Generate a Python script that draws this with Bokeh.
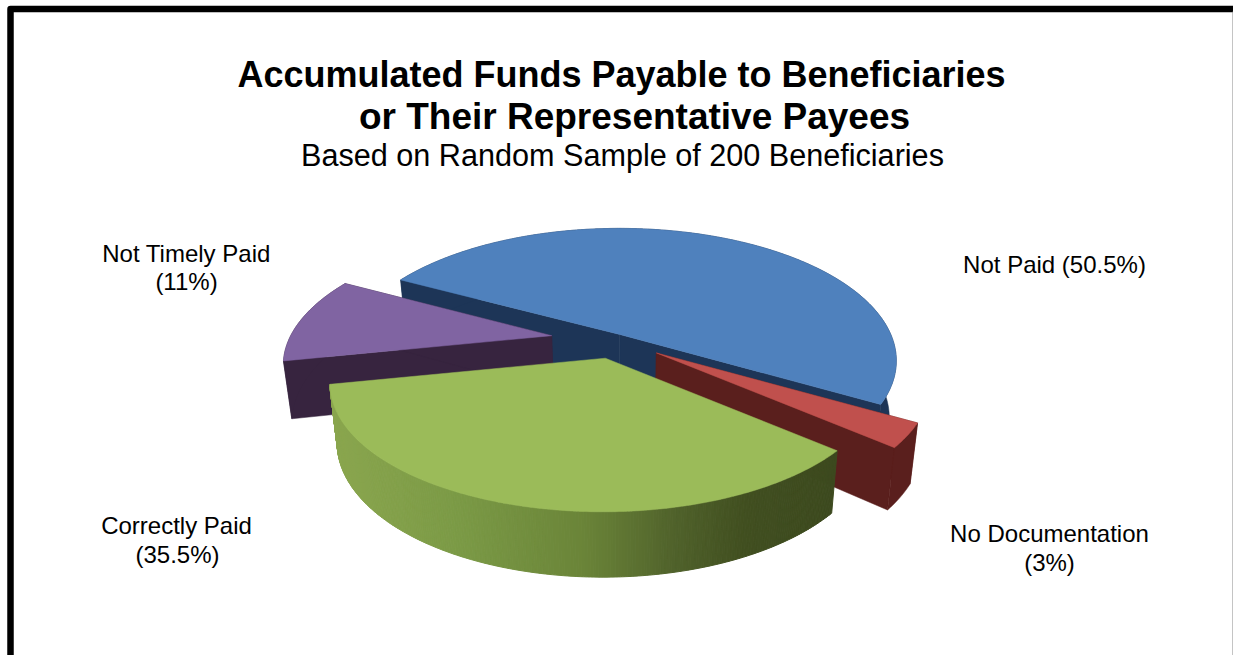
import math
from bokeh.plotting import figure
from bokeh.models import Range1d
from bokeh.core.properties import value
from bokeh.embed import file_html
from bokeh.resources import INLINE

# Shares of the sampled beneficiaries, clockwise from the back-left of the pie
slice_names = ["Not Paid", "No Documentation", "Correctly Paid", "Not Timely Paid"]
slice_values = [50.5, 3.0, 35.5, 11.0]
top_colors = ["#4f81bd", "#c0504d", "#9bbb59", "#8064a2"]
side_colors = ["#1d3557", "#5a1f1d", "#7b9a46", "#37243f"]

# How far each slice is pulled out of the pie, in units of the radius, and its radius scale
slice_offsets = [(0.009, -0.09), (0.145, 0.059), (-0.045, 0.10), (-0.252, -0.08)]
slice_scale = [(1.04, 1.055), (1.0, 1.0), (1.0, 0.965), (1.0, 1.0)]

# Shading of the front rim of the largest foreground slice, left to right
rim_stops = [(0.0, "#8aa64e"), (0.25, "#7b9a46"), (0.5, "#6a8438"), (0.68, "#50622b"),
             (0.82, "#414f20"), (1.0, "#3d4a1f")]

title_line_1 = ("Accumulated Funds Payable to Beneficiaries", 621, 73.5, "36px")
title_line_2 = ("or Their Representative Payees", 634, 116.2, "37px")
subtitle = ("Based on Random Sample of 200 Beneficiaries", 622, 154.4, "30.6px")
label_lines = [
    ("Not Timely Paid", 186, 253), ("(11%)", 186, 281),
    ("Not Paid (50.5%)", 1054, 264),
    ("Correctly Paid", 176, 525), ("(35.5%)", 177, 554),
    ("No Documentation", 1049, 533), ("(3%)", 1049, 562),
]

WIDTH, HEIGHT = 1233, 655
CX, CY = 617.0, 345.0      # pie centre on the page
RADIUS = 265.0
TILT = 0.47
PERSPECTIVE = 0.19
DEPTH = 57.0
START_DEG = 298.0
BOTTOM_SHRINK = 0.975


def project(u, v, lower=False):
    w = 1 - PERSPECTIVE * v
    x = CX + RADIUS * u / w
    y = CY + RADIUS * TILT * v / w
    if lower:
        x = CX + (x - CX) * BOTTOM_SHRINK
        y = y + DEPTH / (1 - 0.12 * v)
    return x, y


def rim_color(t):
    t = max(0.0, min(1.0, t))
    for (t0, c0), (t1, c1) in zip(rim_stops, rim_stops[1:]):
        if t <= t1:
            f = (t - t0) / (t1 - t0)
            rgb = [round(int(c0[i:i + 2], 16) * (1 - f) + int(c1[i:i + 2], 16) * f) for i in (1, 3, 5)]
            return "#%02x%02x%02x" % tuple(rgb)
    return rim_stops[-1][1]


p = figure(width=WIDTH, height=HEIGHT, output_backend="svg", toolbar_location=None,
           x_range=Range1d(0, WIDTH), y_range=Range1d(HEIGHT, 0),
           min_border=0, outline_line_color=None, background_fill_color="white")
p.axis.visible = False
p.grid.visible = False

# Page frame
p.line([10, 10, WIDTH + 10], [HEIGHT + 10, 8.5, 8.5], line_color="black", line_width=6.5, line_join="round")
p.line([WIDTH - 0.5, WIDTH - 0.5], [11, HEIGHT], line_color="#888888", line_width=1)

total = sum(slice_values)
angle = START_DEG
wedges = []
for val, off, sc, top, side in zip(slice_values, slice_offsets, slice_scale, top_colors, side_colors):
    sweep = val / total * 360.0
    wedges.append((angle, angle + sweep, off, sc, top, side))
    angle += sweep

# Paint back to front: large rear slice, left slice, right slice, front slice
for idx in (0, 3, 1, 2):
    a0, a1, (ou, ov), (su, sv), top, side = wedges[idx]
    n = max(4, int((a1 - a0) * 2))
    pts = []
    for i in range(n + 1):
        a = math.radians(a0 + (a1 - a0) * i / n)
        pts.append((ou + su * math.sin(a), ov - sv * math.cos(a)))
    top_xy = [project(u, v) for u, v in pts]
    low_xy = [project(u, v, True) for u, v in pts]
    apex_t = project(ou, ov)
    apex_b = project(ou, ov, True)

    if idx == 2:
        xmin = min(x for x, _ in top_xy)
        xmax = max(x for x, _ in top_xy)
        for i in range(n):
            mx = (top_xy[i][0] + top_xy[i + 1][0]) / 2
            c = rim_color((mx - xmin) / (xmax - xmin))
            p.patch([top_xy[i][0], top_xy[i + 1][0], low_xy[i + 1][0], low_xy[i][0]],
                    [top_xy[i][1], top_xy[i + 1][1], low_xy[i + 1][1], low_xy[i][1]],
                    fill_color=c, line_color=c, line_width=1)
    else:
        for a, b in ((top_xy[0], low_xy[0]), (top_xy[-1], low_xy[-1])):
            p.patch([apex_t[0], a[0], b[0], apex_b[0]], [apex_t[1], a[1], b[1], apex_b[1]],
                    fill_color=side, line_color=side, line_width=0.5)
        p.patch([q[0] for q in top_xy] + [q[0] for q in reversed(low_xy)],
                [q[1] for q in top_xy] + [q[1] for q in reversed(low_xy)],
                fill_color=side, line_color=side, line_width=0.5)

    p.patch([apex_t[0]] + [q[0] for q in top_xy], [apex_t[1]] + [q[1] for q in top_xy],
            fill_color=top, line_color=top, line_width=0.5)

font = value("Liberation Sans")
for txt, x, y, size in (title_line_1, title_line_2):
    p.text([x], [y], text=[txt], text_font=font, text_font_style="bold", text_font_size=size,
           text_align="center", text_baseline="middle", text_color="black")
p.text([subtitle[1]], [subtitle[2]], text=[subtitle[0]], text_font=font, text_font_size=subtitle[3],
       text_align="center", text_baseline="middle", text_color="black")
p.text([q[1] for q in label_lines], [q[2] for q in label_lines], text=[q[0] for q in label_lines],
       text_font=font, text_font_size="24px", text_align="center", text_baseline="middle",
       text_color="black")

open("out.html", "w").write(file_html(p, INLINE))
